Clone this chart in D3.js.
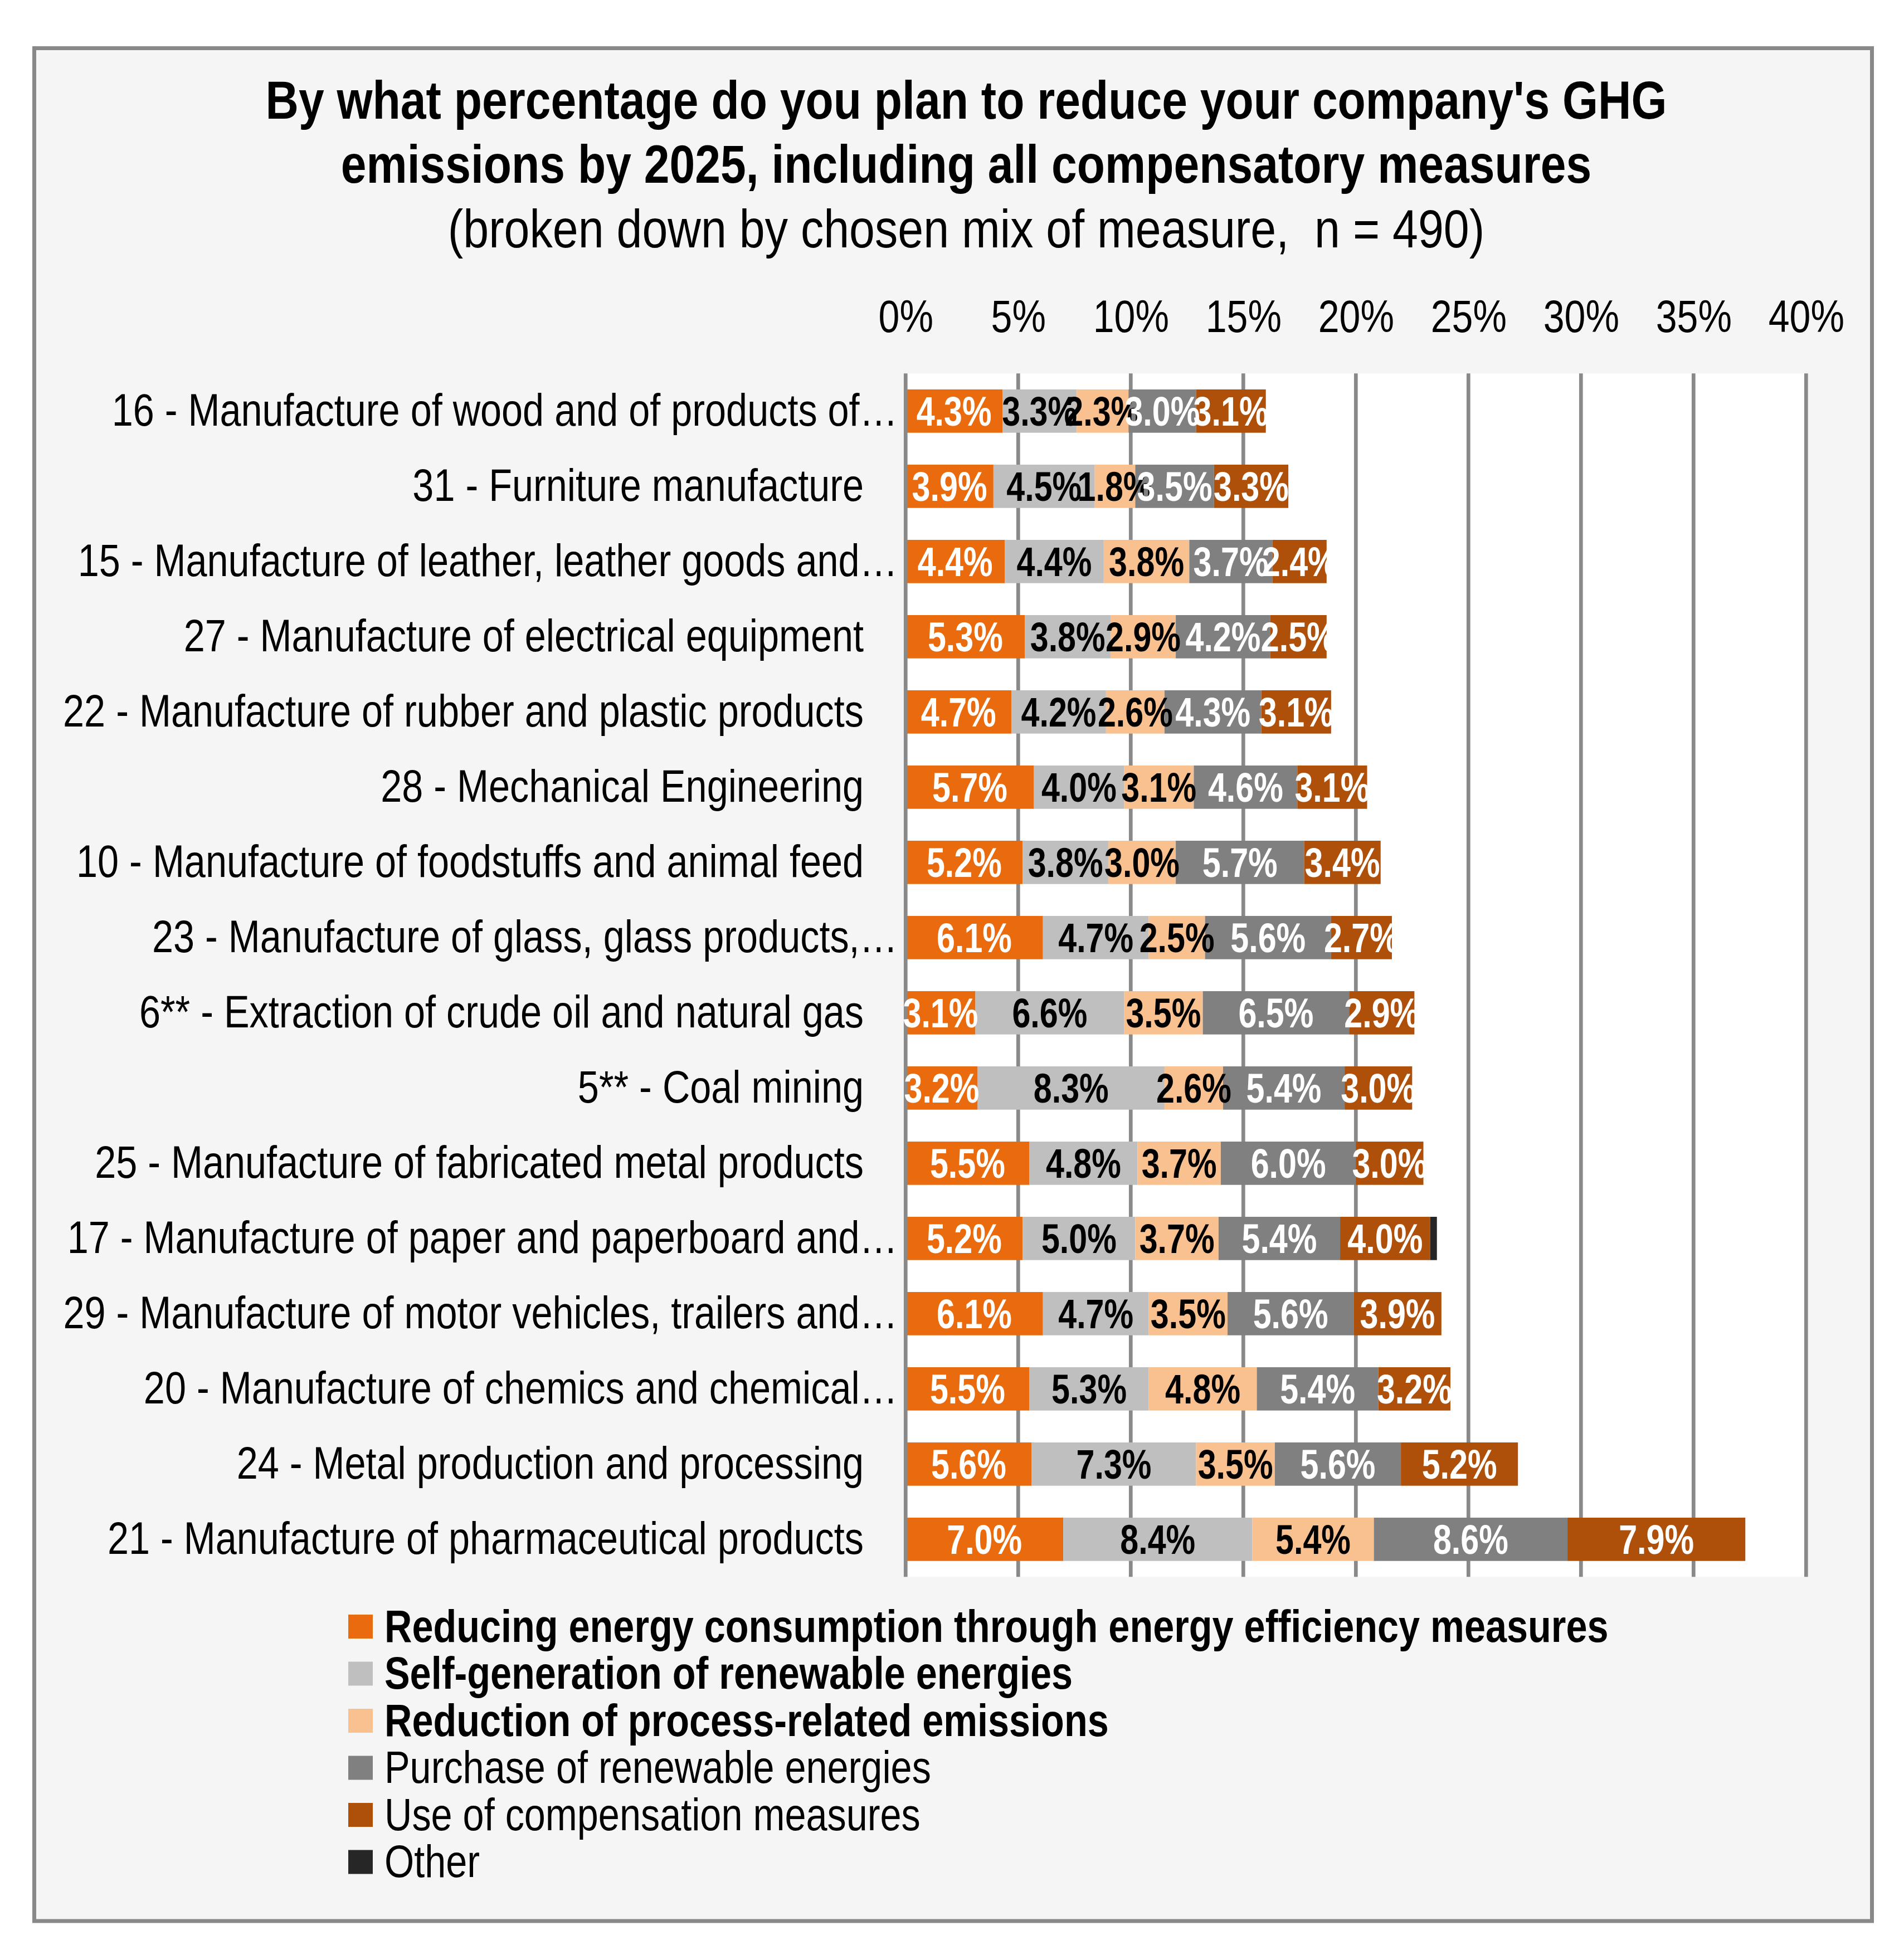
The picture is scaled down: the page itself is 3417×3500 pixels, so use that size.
<!DOCTYPE html>
<html>
<head>
<meta charset="utf-8">
<script src="https://cdn.jsdelivr.net/npm/d3@7"></script>
<style>
  html, body { margin: 0; padding: 0; background: #ffffff; }
  svg { display: block; }
</style>
</head>
<body>
<svg id="chart" width="3417" height="3500"></svg>
<script>
// ---------------- DATA ----------------
const categories = [
  "16 - Manufacture of wood and of products of…",
  "31 - Furniture manufacture",
  "15 - Manufacture of leather, leather goods and…",
  "27 - Manufacture of electrical equipment",
  "22 - Manufacture of rubber and plastic products",
  "28 - Mechanical Engineering",
  "10 - Manufacture of foodstuffs and animal feed",
  "23 - Manufacture of glass, glass products,…",
  "6** - Extraction of crude oil and natural gas",
  "5** - Coal mining",
  "25 - Manufacture of fabricated metal products",
  "17 - Manufacture of paper and paperboard and…",
  "29 - Manufacture of motor vehicles, trailers and…",
  "20 - Manufacture of chemics and chemical…",
  "24 - Metal production and processing",
  "21 - Manufacture of pharmaceutical products"
];
const seriesNames = [
  "Reducing energy consumption through energy efficiency measures",
  "Self-generation of renewable energies",
  "Reduction of process-related emissions",
  "Purchase of renewable energies",
  "Use of compensation measures",
  "Other"
];
const energyEfficiency = [4.3, 3.9, 4.4, 5.3, 4.7, 5.7, 5.2, 6.1, 3.1, 3.2, 5.5, 5.2, 6.1, 5.5, 5.6, 7.0];
const selfGeneration   = [3.3, 4.5, 4.4, 3.8, 4.2, 4.0, 3.8, 4.7, 6.6, 8.3, 4.8, 5.0, 4.7, 5.3, 7.3, 8.4];
const processRelated   = [2.3, 1.8, 3.8, 2.9, 2.6, 3.1, 3.0, 2.5, 3.5, 2.6, 3.7, 3.7, 3.5, 4.8, 3.5, 5.4];
const purchaseRenew    = [3.0, 3.5, 3.7, 4.2, 4.3, 4.6, 5.7, 5.6, 6.5, 5.4, 6.0, 5.4, 5.6, 5.4, 5.6, 8.6];
const compensation     = [3.1, 3.3, 2.4, 2.5, 3.1, 3.1, 3.4, 2.7, 2.9, 3.0, 3.0, 4.0, 3.9, 3.2, 5.2, 7.9];
const otherMeasures    = [0, 0, 0, 0, 0, 0, 0, 0, 0, 0, 0, 0.3, 0, 0, 0, 0];
const tickValues = [0, 5, 10, 15, 20, 25, 30, 35, 40];
const titleLines = [
  "By what percentage do you plan to reduce your company's GHG",
  "emissions by 2025, including all compensatory measures"
];
const subtitle = "(broken down by chosen mix of measure,  n = 490)";

// ---------------- STYLE ----------------
const colors = ["#E96B0D", "#BFBFBF", "#F9C18F", "#808080", "#AF500A", "#262626"];
const labelColors = ["#ffffff", "#000000", "#000000", "#ffffff", "#ffffff", "#ffffff"];
const legendBold = [true, true, true, false, false, false];
const FONT = "'Liberation Sans', Arial, sans-serif";

// horizontal condensing to emulate a narrow typeface
function condense(sel, s) {
  sel.each(function () {
    const x = +(this.getAttribute("x") || 0), y = +(this.getAttribute("y") || 0);
    this.setAttribute("x", 0); this.setAttribute("y", 0);
    this.setAttribute("transform", `translate(${x},${y}) scale(${s},1)`);
  });
}

const seriesArrays = [energyEfficiency, selfGeneration, processRelated, purchaseRenew, compensation, otherMeasures];
const keys = seriesNames;
const rows = categories.map((c, i) => {
  const r = { category: c };
  keys.forEach((k, j) => r[k] = seriesArrays[j][i]);
  return r;
});
const stacked = d3.stack().keys(keys)(rows);

const svg = d3.select("#chart");

// frame
svg.append("rect")
  .attr("x", 61.5).attr("y", 86.5)
  .attr("width", 3298).attr("height", 3361.5)
  .attr("fill", "#F5F5F5")
  .attr("stroke", "#888888").attr("stroke-width", 7);

// title
const titleX = 1734;
const t1 = svg.append("text")
  .attr("x", titleX).attr("y", 213)
  .attr("text-anchor", "middle")
  .style("font-family", FONT).style("font-size", "96px").style("font-weight", "bold")
  .text(titleLines[0]);
const t2 = svg.append("text")
  .attr("x", titleX).attr("y", 328)
  .attr("text-anchor", "middle")
  .style("font-family", FONT).style("font-size", "96px").style("font-weight", "bold")
  .text(titleLines[1]);
const t3 = svg.append("text")
  .attr("x", titleX).attr("y", 444)
  .attr("text-anchor", "middle")
  .style("white-space", "pre")
  .style("font-family", FONT).style("font-size", "96px")
  .text(subtitle);
condense(t1, 0.857); condense(t2, 0.857); condense(t3, 0.86);

// scales
const x = d3.scaleLinear().domain([0, 40]).range([1625.3, 3241.3]);
const plotTop = 670.35, plotBottom = 2830.35;
const y = d3.scaleBand().domain(categories).range([plotTop, plotBottom])
  .paddingInner(0.4244).paddingOuter(0.2122);

// plot area
svg.append("rect")
  .attr("x", x(0)).attr("y", plotTop)
  .attr("width", x(40) - x(0)).attr("height", plotBottom - plotTop)
  .attr("fill", "#ffffff");

// gridlines
svg.append("g").selectAll("line").data(tickValues.slice(1)).join("line")
  .attr("x1", d => x(d)).attr("x2", d => x(d))
  .attr("y1", plotTop).attr("y2", plotBottom)
  .attr("stroke", "#898989").attr("stroke-width", 6.7);

// bars
const layer = svg.append("g").selectAll("g").data(stacked).join("g")
  .attr("fill", (d, i) => colors[i]);
layer.selectAll("rect").data(d => d).join("rect")
  .attr("x", d => x(d[0]))
  .attr("y", d => y(d.data.category))
  .attr("width", d => x(d[1]) - x(d[0]))
  .attr("height", y.bandwidth());

// axis line at 0 (on top)
svg.append("line")
  .attr("x1", x(0)).attr("x2", x(0))
  .attr("y1", plotTop).attr("y2", plotBottom)
  .attr("stroke", "#898989").attr("stroke-width", 6.7);

// data labels
stacked.forEach((s, i) => {
  const lab = svg.append("g").selectAll("text").data(s.filter(d => (d[1] - d[0]) >= 1)).join("text")
    .attr("x", d => (x(d[0]) + x(d[1])) / 2)
    .attr("y", d => y(d.data.category) + y.bandwidth() / 2 + 26.6)
    .attr("text-anchor", "middle")
    .attr("fill", labelColors[i])
    .style("font-family", FONT).style("font-size", "74px").style("font-weight", "bold")
    .text(d => d3.format(".1f")(d[1] - d[0]) + "%");
  condense(lab, 0.8);
});

// top axis
const axis = d3.axisTop(x).tickValues(tickValues).tickFormat(d => d + "%").tickSize(0).tickPadding(0);
const ag = svg.append("g").attr("transform", "translate(0,596)").call(axis);
ag.select(".domain").remove();
const tickText = ag.selectAll("text")
  .attr("y", 0).attr("dy", null)
  .attr("fill", "#000")
  .style("font-family", FONT).style("font-size", "82px");
condense(tickText, 0.83);

// category labels
const catText = svg.append("g").selectAll("text").data(categories).join("text")
  .attr("x", d => d.endsWith("…") ? 1611 : 1550)
  .attr("y", d => y(d) + y.bandwidth() / 2 + 26.4)
  .attr("text-anchor", "end")
  .attr("fill", "#000")
  .style("font-family", FONT).style("font-size", "82px")
  .text(d => d);
condense(catText, 0.834);

// legend
const legend = svg.append("g").selectAll("g").data(seriesNames).join("g")
  .attr("transform", (d, i) => `translate(0,${i * 84.5})`);
legend.append("rect")
  .attr("x", 625).attr("y", 2898)
  .attr("width", 44).attr("height", 43)
  .attr("fill", (d, i) => colors[i]);
const legText = legend.append("text")
  .attr("x", 690).attr("y", 2946.7)
  .attr("fill", "#000")
  .style("font-family", FONT).style("font-size", "82px")
  .style("font-weight", (d, i) => legendBold[i] ? "bold" : "normal")
  .text(d => d);
condense(legText, 0.834);
</script>
</body>
</html>
